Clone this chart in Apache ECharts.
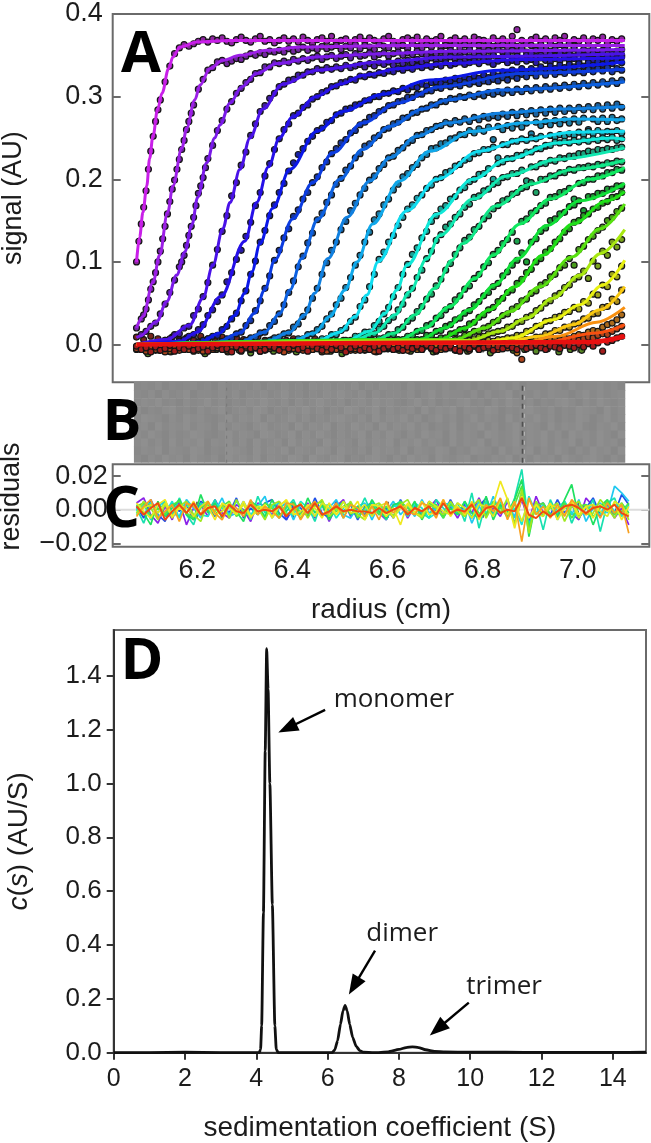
<!DOCTYPE html>
<html><head><meta charset="utf-8">
<style>html,body{margin:0;padding:0;background:#fff}#main{width:651px;height:1143px;filter:blur(0.5px)}</style>
<script src="https://cdn.jsdelivr.net/npm/echarts@6/dist/echarts.min.js"></script>
</head><body><div id="main"></div>
<script>
// ---------- tick labels ----------
const radiusTicks=[6.2,6.4,6.6,6.8,7.0];
const signalTicks=[0,0.1,0.2,0.3,0.4];
const residualTicks=[-0.02,0,0.02];
const sedTicks=[0,2,4,6,8,10,12,14];
const cTicks=[0,0.2,0.4,0.6,0.8,1.0,1.2,1.4];
// ---------- panel A: observed radii grid (cm); signal in milli-AU ----------
const obsRadiusStart=6.0725, obsRadiusStep=0.01;
const scanColors=['#c81fe8','#9c1fe6','#7a1ae8','#4a12e8','#2610e8','#0c18e8','#0c3ce0','#0c60e0','#1080e0','#10a8ea','#10dcf0','#10e8d8','#10e8b0','#10e888','#10e860','#10e038','#20e018','#58e010','#a8e810','#e8f010','#f8c810','#f89010','#f85010','#e81010'];
const scanStart=[0,0,1,6,9,13,17,22,27,32,37,42,45,49,53,57,62,67,70,72,77,0,0,0];
const dots01=[100,146,186,234,270,296,318,337,352,359,363,361,364,367,369,366,370,368,371,367,365,369,372,368,366,370,373,367,369,365,368,371,367,370,366,372,368,364,369,371,367,373,366,368,370,365,369,372,367,371,368,366,370,373,367,365,369,371,368,372,366,370,367,369,373,365,368,371,367,370,366,372,369,368,365,371,367,370,366,373,381,368,365,369,372,367,370,366,371,368,373,365,369,367,371,366,370,368,372,365,369,367,370];
const dots02=[20,31,43,67,87,113,143,173,199,224,247,270,290,309,321,332,335,342,344,340,343,346,345,349,352,350,353,351,355,354,356,354,358,355,357,360,356,359,357,361,358,360,362,357,361,359,363,358,362,360,357,363,361,359,364,360,362,358,365,361,359,363,360,364,358,362,361,365,359,363,360,364,362,358,366,361,359,363,360,365,361,358,364,362,360,363,359,365,361,363,360,364,361];
const dots03=[12,16,22,26,37,49,63,78,94,108,132,154,183,202,225,241,259,271,285,294,304,310,317,321,328,329,336,336,341,340,343,341,345,343,346,344,347,349,345,348,350,346,349,351,347,352,349,350,353,348,351,353,349,352,354,350,353,351,355,352,350,354,352,355,351,356,353,350,354,357,352,355,353,356,351,357,354,352,356,353,358,354,352,356,359,353,355,357,352,356,354,358,353,357,355,359,354,356,358,353,355,357];
const dots04=[5,7,12,13,20,22,35,43,58,75,96,115,137,156,180,196,217,233,253,267,282,289,298,304,312,315,320,321,326,326,330,330,334,332,335,333,336,334,338,335,337,339,336,340,337,341,339,342,338,343,340,344,341,345,342,344,347,343,346,344,348,345,347,343,348,346,349,345,347,350,346,348,351,347,349,346,350,352,348,350,347,351,349,352,348,351,349,353,350,347,352,350,354,349,351,353,350];
const dots05=[4,6,10,12,18,24,35,42,52,60,76,87,103,114,131,148,168,184,204,219,236,249,260,267,277,280,287,290,297,300,305,307,312,313,317,318,321,320,325,324,327,326,329,328,331,330,334,332,335,333,337,335,338,336,339,337,341,338,340,342,339,341,343,340,344,342,339,343,345,341,344,342,346,343,345,341,347,344,342,346,343,347,344,346,342,348,345,343,347,345,349,344,346,348];
const dots06=[3,5,7,10,11,18,22,31,38,53,65,85,101,124,138,156,169,184,195,210,220,230,237,246,252,259,262,269,271,278,280,285,286,290,291,295,296,300,300,304,304,307,306,310,308,312,311,315,313,317,318,316,320,318,322,319,323,321,325,322,326,323,328,325,330,327,332,329,334,330,334,331,336,333,337,334,338,335,339,336,340,337,341,338,342,339,343,340,344,341];
const dots07=[2,4,7,8,13,15,23,29,41,53,68,83,102,114,129,140,155,163,176,184,196,203,214,221,231,237,244,248,256,259,266,269,275,277,282,284,289,290,294,295,299,299,303,303,307,307,311,310,314,312,315,313,317,315,318,316,319,318,321,319,323,320,325,322,327,324,329,325,330,326,331,327,330,328,332,329,331,329,333,330,334,331,335,330,334,332];
const dots08=[3,5,8,9,14,15,23,28,37,48,63,77,94,107,123,135,151,159,172,181,194,201,211,216,226,231,240,243,250,253,260,262,267,269,274,275,280,281,285,286,290,290,294,294,298,297,300,299,302,300,303,301,305,303,306,304,308,305,309,306,310,307,311,308,312,309,313,310,314,311,315,312,316,313,317,314,318,315,319,316,320];
const dots09=[3,5,8,9,13,14,21,25,34,42,56,68,85,99,114,124,139,149,162,171,181,189,199,204,213,218,226,228,235,238,244,247,253,254,259,260,264,265,269,267,271,269,273,270,275,272,276,274,277,275,279,276,281,277,282,278,283,279,284,280,285,281,286,282,286,283,287,284,288,284,289,285,290,286,291,287];
const dots10=[3,4,7,7,12,13,18,22,31,37,48,56,69,81,96,108,124,136,151,158,169,176,187,194,203,207,214,218,226,230,237,238,243,244,249,250,254,254,259,256,261,258,263,248,264,260,265,262,267,263,268,255,269,265,270,266,271,267,272,268,273,269,274,260,273,270,274,270,275,271,273];
const dots11=[3,4,7,7,12,12,17,20,28,33,46,54,70,85,103,112,124,132,144,154,164,169,177,181,189,193,200,202,208,210,216,218,223,225,231,232,236,236,239,226,242,242,246,246,249,247,250,249,252,240,253,251,254,252,255,253,257,254,258,255,259,256,258,257,259,256];
const dots12=[2,3,5,5,10,10,15,15,23,28,37,45,58,69,85,97,109,117,129,137,149,156,164,168,176,179,187,190,197,200,206,207,213,200,219,221,225,225,229,229,233,233,237,237,241,241,245,244,246,244,247,245,248,246,249,247,250,248,251,247,249];
const dots13=[3,5,8,8,12,13,19,22,29,33,42,49,60,68,81,90,104,113,126,133,142,146,154,158,166,170,178,180,186,188,194,196,202,203,207,207,211,198,215,215,219,219,223,222,226,225,228,228,231,231,234,233,236,235,237,236,238,239];
const dots14=[3,4,7,8,12,12,18,21,28,32,40,46,55,61,71,79,90,98,109,117,126,130,139,143,152,156,164,168,174,176,182,184,189,191,196,184,200,200,204,204,208,208,212,211,214,214,216,215,218,217,220,219,222,221];
const dots15=[3,4,6,6,10,11,16,17,23,25,32,35,42,46,54,59,67,71,80,85,94,99,109,114,122,127,136,125,149,152,159,162,168,171,178,179,184,185,189,176,195,196,200,200,204,204,208,208,212,211];
const dots16=[2,3,6,6,11,11,16,17,22,24,30,32,38,41,48,52,59,63,70,74,83,88,96,102,111,100,124,128,137,141,150,152,158,160,167,169,174,162,179,179,183,183,188,188,192,192];
const dots17=[4,5,8,8,13,14,18,19,25,27,33,36,42,45,52,56,63,66,74,79,87,91,100,104,112,116,124,128,136,140,148,150,156,158,164,166,171,173,178,179,184];
const dots18=[6,7,11,12,16,16,20,22,27,29,35,37,43,46,53,55,62,65,72,75,82,85,93,96,104,96,115,119,127,131,138,142,150,154,161,165];
const dots19=[5,7,9,10,13,14,16,17,21,22,27,28,33,35,41,44,50,53,59,62,69,72,79,82,89,80,101,95,113,108,124,118,127];
const dots20=[2,3,5,4,6,6,8,8,11,11,16,17,22,23,28,29,33,34,39,40,45,43,52,50,61,60,72,70,85,82,95];
const dots21=[1,3,2,4,3,6,6,9,9,13,13,17,17,21,21,25,26,31,32,37,38,45,46,55,52,66];
const dots22=[-3,-6,-2,-5,-7,-1,-4,-8,-3,-5,-6,-2,-4,-7,-3,-1,-6,-4,-5,-2,-7,-3,-5,-1,-6,-4,-8,-2,-5,-3,-6,-4,-7,-2,-5,-1,-4,-6,-3,-9,-2,-5,-4,-6,-1,-3,-7,-4,-2,-5,-3,-6,-2,-4,-1,-5,-7,-3,-2,-6,-4,-1,-5,-3,-6,-2,-4,-7,-1,-3,-5,-2,-4,-1,-3,-5,-2,0,-3,1,-10,2,0,3,2,4,3,5,6,5,8,7,10,12,11,15,17,16,21,24,26,30,36];
const dots23=[-5,-2,-8,-4,-6,-3,-9,-5,-2,-7,-4,-6,-1,-5,-8,-3,-6,-4,-2,-7,-5,-3,-8,-4,-6,-2,-5,-7,-3,-4,-6,-9,-2,-5,-3,-7,-4,-6,-2,-5,-8,-3,-6,-4,-2,-7,-5,-3,-6,-4,-8,-2,-5,-3,-6,-4,-2,-7,-5,-3,-6,-2,-4,-8,-3,-5,-1,-6,-3,-4,-7,-2,-5,-1,-4,-3,-6,-2,-4,-1,-3,-18,-2,-3,0,-1,1,0,2,3,2,4,6,5,7,9,8,11,13,12,16,19,22];
const dots24=[-2,-6,-4,-9,-3,-7,-5,-1,-8,-4,-6,-2,-7,-5,-3,-8,-4,-1,-6,-5,-9,-3,-7,-2,-5,-4,-8,-6,-2,-4,-7,-3,-5,-1,-6,-4,-8,-2,-5,-7,-3,-6,-1,-4,-9,-5,-2,-7,-4,-6,-3,-8,-5,-2,-6,-4,-7,-3,-5,-2,-6,-1,-4,-7,-3,-5,-2,-6,-8,-3,-5,-1,-6,-4,-2,-7,-3,-5,-1,-4,-6,-2,-5,-3,-1,-4,-6,-2,-3,-5,-1,-2,-4,0,-3,1,-2,2,-8,3,5,8,10];
const allDots=[dots01,dots02,dots03,dots04,dots05,dots06,dots07,dots08,dots09,dots10,dots11,dots12,dots13,dots14,dots15,dots16,dots17,dots18,dots19,dots20,dots21,dots22,dots23,dots24];
// half-step readings on the steepest scans
const halfStart=[0,1,9];
const half01=[125,166,212,252,284];
const half02=[36,54,76,100,128,158,188,212,236,260,280];
const half03=[100,120,143,168,192,214];
const allHalf=[half01,half02,half03];
// dots along the baseline (milli-AU)
const baselineStep=0.015, oliveStep=0.024;
const baselineUpper=[9,6,10,7,5,9,6,8,5,10,7,6,9,5,8,6,7,9,5,6,8,5,7,6,4,7,5,6,4,5,4,5,3,5,4,3];
const baselineOlive=[-6,-11,-7,-9,-5,-8,-11,-6,-9,-7,-10,-5,-8,-6,-9,-7,-5,-8,-11,-6,-7,-9,-5,-7,-8,-6,-9,-5,-7,-8,-6,-10,-5,-7,-6,-8,-5,-9,-6,-7];
// fit curves: [radius cm, signal milli-AU]
const fit01=[[6.0725,100],[6.079,130],[6.086,160],[6.094,192],[6.100,225],[6.107,252],[6.117,285],[6.126,304],[6.140,334],[6.149,348],[6.164,360],[6.199,366],[6.269,368],[7.099,368]];
const fit02=[[6.0725,20],[6.086,34],[6.107,75],[6.121,108],[6.138,160],[6.149,192],[6.168,238],[6.178,262],[6.195,296],[6.206,314],[6.227,334],[6.254,344],[6.290,350],[6.347,356],[6.416,360],[6.626,362],[7.099,362]];
const fit03=[[6.0725,8],[6.079,10],[6.115,28],[6.136,52],[6.157,84],[6.174,112],[6.189,145],[6.201,178],[6.220,220],[6.237,250],[6.248,266],[6.269,292],[6.294,312],[6.325,328],[6.368,340],[6.452,348],[6.584,352],[6.731,355],[7.099,357]];
const fit04=[[6.0725,0],[6.136,6],[6.185,24],[6.212,56],[6.233,96],[6.254,140],[6.269,172],[6.290,212],[6.311,250],[6.338,285],[6.380,315],[6.452,332],[6.584,342],[6.731,348],[7.099,352]];
const fit05=[[6.0725,0],[6.164,4],[6.200,15],[6.250,58],[6.300,125],[6.325,172],[6.350,215],[6.373,250],[6.400,275],[6.450,300],[6.500,315],[6.550,326],[6.626,334],[6.725,340],[6.879,345],[7.099,347]];
const fit06=[[6.0725,0],[6.206,3],[6.248,14],[6.279,35],[6.300,62],[6.315,88],[6.332,122],[6.359,165],[6.395,212],[6.452,258],[6.506,282],[6.590,303],[6.689,320],[6.837,332],[7.099,342]];
const fit07=[[6.0725,0],[6.237,2],[6.290,14],[6.321,38],[6.342,66],[6.363,102],[6.401,152],[6.443,196],[6.485,232],[6.548,268],[6.620,292],[6.710,312],[6.879,328],[7.099,333]];
const fit08=[[6.0725,0],[6.290,3],[6.342,15],[6.374,38],[6.395,66],[6.420,104],[6.454,152],[6.500,200],[6.548,236],[6.605,264],[6.675,285],[6.725,296],[6.837,308],[7.099,318]];
const fit09=[[6.0725,0],[6.342,3],[6.395,15],[6.426,36],[6.447,62],[6.475,104],[6.515,154],[6.563,198],[6.605,226],[6.662,252],[6.725,268],[6.837,280],[6.963,285],[7.099,288]];
const fit10=[[6.0725,0],[6.395,3],[6.447,14],[6.479,34],[6.511,66],[6.536,100],[6.569,146],[6.626,198],[6.689,234],[6.780,258],[6.885,268],[6.990,273],[7.099,272]];
const fit11=[[6.0725,0],[6.447,3],[6.500,15],[6.532,34],[6.557,60],[6.580,100],[6.641,162],[6.704,200],[6.794,234],[6.885,248],[6.990,257],[7.099,258]];
const fit12=[[6.0725,0],[6.511,4],[6.563,16],[6.595,38],[6.620,66],[6.641,96],[6.704,158],[6.780,200],[6.851,224],[6.956,244],[7.074,250],[7.099,248]];
const fit13=[[6.0725,0],[6.521,3],[6.574,14],[6.616,36],[6.647,64],[6.683,104],[6.710,132],[6.780,176],[6.851,204],[6.956,224],[7.099,238]];
const fit14=[[6.0725,0],[6.563,3],[6.616,14],[6.658,36],[6.700,68],[6.736,102],[6.757,122],[6.830,168],[6.900,194],[6.990,212],[7.099,223]];
const fit15=[[6.0725,0],[6.626,6],[6.679,20],[6.731,46],[6.784,80],[6.822,108],[6.879,146],[6.942,176],[7.026,200],[7.099,214]];
const fit16=[[6.0725,0],[6.668,6],[6.721,20],[6.773,42],[6.826,72],[6.874,104],[6.935,144],[7.005,174],[7.099,195]];
const fit17=[[6.0725,0],[6.710,6],[6.763,20],[6.815,42],[6.868,70],[6.927,108],[6.990,146],[7.062,174],[7.099,185]];
const fit18=[[6.0725,0],[6.742,6],[6.805,20],[6.858,40],[6.921,70],[6.988,106],[7.047,140],[7.099,170]];
const fit19=[[6.0725,0],[6.773,5],[6.837,16],[6.893,32],[6.948,56],[7.005,84],[7.047,110],[7.099,139]];
const fit20=[[6.0725,0],[6.794,2],[6.864,8],[6.948,30],[7.005,48],[7.053,72],[7.099,102]];
const fit21=[[6.0725,0],[6.837,2],[6.921,10],[6.990,24],[7.047,42],[7.099,70]];
const fit22=[[6.0725,0],[6.879,2],[6.956,10],[7.040,27],[7.099,45]];
const fit23=[[6.0725,0],[6.921,2],[7.040,14],[7.099,24]];
const fit24=[[6.0725,0],[7.026,3],[7.099,10]];
const allFits=[fit01,fit02,fit03,fit04,fit05,fit06,fit07,fit08,fit09,fit10,fit11,fit12,fit13,fit14,fit15,fit16,fit17,fit18,fit19,fit20,fit21,fit22,fit23,fit24];
// ---------- panel B: residual bitmap, grey level digits per row ----------
const bitmapStart=6.067, bitmapStep=0.01474;
const bitmapRows=[
"3435243453425344352435342545343524354425344353452434535244354253445342",
"4352534624435352445346342435464352534435246354435253462435354424635345",
"3546342534635243546435253464352453645324635243563425364352435642536435",
"5243563425346245365243546352436534625345263546254365243564352436542635",
"3654253645324635462534635243564352635463524635246354263546352436524635",
"4526354635426354256345263546253645263546352436254635246354263546325463",
"5364253465324635426534625364253462536425364526354265346254635264536426",
"4635263546254635263452635426354263546254635426354625346254635462536452",
"3546254365243654263546254365264352645362543652436542635462536425364526",
"4253645264352645362543652643562435642536452643562435462536452643564253"];
const streakRadius=[6.884,6.884];
const streakLevel=[0,10];
const faintRadius=[6.262,6.262];
// ---------- panel C: residuals in units of 0.001 ----------
const resRadiusStart=6.0725, resRadiusStep=0.015;
const resPurple=[4,7,-3,-8,2,-6,5,-9,1,3,-4,6,-2,-5,3,0,-7,4,2,-3,5,-6,1,-2,4,-5,3,-7,2,6,-4,1,-3,5,-2,-6,3,4,-5,2,-3,1,6,-4,2,-5,3,-2,7,-3,1,-4,5,-8,6,-7,8,-2,3,-5,4,-2,-6,7,2,-4,3,-5,1,-9];
const resBlue=[2,-5,6,-3,-7,4,-1,3,-6,5,2,-4,3,-2,7,-5,1,-3,4,6,-2,-6,3,1,-4,7,-2,-5,5,-1,3,-6,2,4,-3,1,-5,6,-2,3,-4,5,-1,-3,6,-2,4,-5,2,7,-3,5,-1,-4,9,-6,2,4,-3,6,-2,3,-5,1,7,-3,4,-2,9,3];
const resCyan=[-3,4,-6,2,5,-2,-4,6,1,-5,3,-1,7,-4,-2,5,-3,2,8,-5,1,4,-6,3,-2,5,-4,1,6,-3,-5,2,4,-6,3,-1,5,-3,2,-4,6,-2,1,-5,3,-3,5,-8,2,-4,8,-2,6,-5,11,-9,3,-4,5,-6,2,-3,6,-7,1,4,-2,14,10,5];
const resTeal=[1,-8,3,-2,5,-4,7,-3,-9,4,-1,6,-5,2,-3,4,-6,8,-2,3,-5,1,6,-4,2,-7,5,-1,3,-5,4,-2,7,-3,1,-6,2,5,-4,3,-2,-5,6,1,-3,4,-7,10,-11,5,-3,2,-4,7,24,-10,4,-12,6,-3,5,-8,2,-3,6,-13,4,7,-4,3];
const resGreen=[3,-2,-9,5,-4,1,6,-3,-6,9,-2,4,-5,3,-1,-7,5,2,-4,6,-3,-1,4,-5,7,-2,3,-6,1,5,-3,2,-4,6,-1,-5,3,4,-2,5,-6,2,3,-4,1,-3,5,-2,-5,8,-6,3,-2,6,18,-16,5,-3,2,-4,6,15,-5,3,-9,2,6,-3,4,-2];
const resAqua=[-1,3,4,-4,-2,5,-5,2,3,-3,-4,4,1,-3,5,-1,-4,3,-5,2,4,-2,-3,5,1,-4,2,3,-5,1,4,-3,-1,5,-2,-4,2,3,-4,4,1,-5,-2,3,4,-3,1,-4,5,-2,3,4,-5,1,-9,8,-2,3,-4,1,5,-2,-4,3,1,-3,5,-1,-4,2];
const resSpring=[2,4,-4,1,-3,3,5,-2,-5,1,4,-3,2,5,-4,-1,3,-3,4,1,-5,2,4,-2,-3,3,5,-4,-1,2,4,-5,1,3,-3,2,-4,5,1,-2,-3,4,2,-5,3,1,-4,4,-2,-3,5,1,-4,3,14,-11,2,4,-3,-1,4,-5,2,3,-4,1,5,-3,-1,4];
const resLime=[-2,5,1,-6,3,-4,2,5,-3,-7,4,-1,3,-5,6,-2,4,1,-6,3,5,-3,-1,4,-5,2,6,-4,1,-2,5,-3,-6,2,4,-1,-4,3,6,-2,-5,3,1,-3,5,-1,-4,2,6,-5,3,-2,7,-9,12,-14,5,-3,1,4,-7,2,5,-3,-2,6,1,-5,4,-6];
const resGold=[-3,1,3,-2,4,-5,3,1,-4,2,5,-3,-1,4,-2,3,-5,2,1,-4,3,5,-3,-1,2,-4,4,1,-3,5,-2,-1,3,-4,2,4,-5,1,3,-2,-4,5,2,-1,-3,4,1,-5,3,2,-4,6,-3,5,-7,6,-2,-4,3,1,-3,4,-5,2,3,-1,-4,5,2,-3];
const resYellow=[4,-1,-5,3,6,-4,1,-2,5,-3,2,-6,4,1,-3,5,-4,-1,3,-5,2,6,-2,-4,3,1,-5,4,-3,2,-1,5,-6,3,2,-4,1,-9,4,-2,5,-3,-1,6,-4,2,-3,5,-6,1,3,17,6,-11,8,-5,3,-2,4,-6,1,5,-3,2,-5,3,-1,4,-6,2];
const resOrange=[-4,2,6,-5,-1,3,-7,4,2,-3,5,-2,-6,3,1,-4,6,-3,2,-1,-5,4,3,-6,1,5,-3,-2,4,-5,3,1,-4,2,-6,5,-2,3,-1,-3,4,2,-5,6,-3,1,-2,4,-5,3,-1,7,-6,5,-19,7,-3,2,-5,3,-4,6,1,-3,2,-5,4,-2,3,-14];
const resRed=[2,-3,1,4,-6,-1,3,-2,4,-3,1,2,-4,3,-1,-2,3,-1,0,-1,2,-4,1,3,-2,4,-3,-1,2,-1,0,-1,-1,-2,1,-2,0,2,-3,1,-1,2,-3,4,-2,0,-1,3,-4,1,2,-2,0,-1,7,-3,-5,-1,-4,-1,2,3,1,-2,1,2,0,3,-2,-4];
const residualLines=[[resPurple,'#8a20e8'],[resBlue,'#2050e8'],[resCyan,'#20c8f0'],[resTeal,'#18e0b0'],[resAqua,'#18e8d0'],[resGreen,'#20e060'],[resSpring,'#50e840'],[resLime,'#a0e820'],[resGold,'#d8e820'],[resYellow,'#f0e820'],[resOrange,'#f8a020'],[resRed,'#f04a10']];
// ---------- panel D ----------
const sedCoeff=[0,1,2,3,3.8,4.08,4.12,4.15,4.2,4.25,4.29,4.33,4.38,4.45,4.52,4.56,4.62,5,5.8,6.12,6.2,6.28,6.36,6.43,6.49,6.55,6.62,6.7,6.8,6.9,7,7.3,7.7,8,8.2,8.38,8.55,8.75,9,9.3,10,11,12,13,14,14.93];
const cOfS=[0,0,0.002,0,0,0,0.012,0.1,0.52,1.12,1.5,1.35,1.0,0.55,0.1,0.012,0,0,0,0,0.01,0.045,0.105,0.155,0.176,0.155,0.105,0.058,0.024,0.008,0.002,0,0.003,0.012,0.019,0.022,0.019,0.011,0.005,0.003,0.002,0.002,0.001,0.001,0.001,0.002];
const arrowSegments=[[[5.93,1.273],[4.87,1.205]],[[7.33,0.379],[6.74,0.248]],[[9.96,0.186],[9.08,0.088]]];
const peakNames=[['monomer',7.86,1.311],['dimer',8.09,0.444],['trimer',10.95,0.244]];

const AXIS='#6a6a6a', TXT='#1c1c1c', FONT='"Liberation Sans",Arial,sans-serif';
const GA={left:112.7,top:14,width:536.6,height:368.3,outerBoundsMode:'none'};
const GB={left:112.7,top:382,width:536.6,height:80.7,outerBoundsMode:'none'};
const GC={left:112.7,top:464.3,width:536.6,height:82.4,outerBoundsMode:'none'};
const GD={left:113.7,top:630,width:532.3,height:422.7,outerBoundsMode:'none'};
const RX=[6.0224,7.1506];
const border={show:true,borderColor:AXIS,borderWidth:2,backgroundColor:'#fff'};
function dark(hex){const n=parseInt(hex.slice(1),16);const f=c=>Math.round(c*0.62+18);
 return 'rgb('+f(n>>16&255)+','+f(n>>8&255)+','+f(n&255)+')';}
function xAx(gi,pos,show,extra){return Object.assign({type:'value',gridIndex:gi,position:pos,min:RX[0],max:RX[1],
  splitLine:{show:false},axisLine:{show:false},
  axisTick:{show:true,inside:true,length:8,lineStyle:{color:AXIS,width:2},customValues:radiusTicks},
  axisLabel:{show:show,customValues:radiusTicks,formatter:v=>v.toFixed(1),fontFamily:FONT,fontSize:27,color:TXT,margin:10}},extra||{});}
function yAx(gi,pos,min,max,ticks,show,fmt,margin,extra){return Object.assign({type:'value',gridIndex:gi,position:pos,min:min,max:max,
  splitLine:{show:false},axisLine:{show:false},
  axisTick:{show:true,inside:true,length:8,lineStyle:{color:AXIS,width:2},customValues:ticks},
  axisLabel:{show:show,customValues:ticks,formatter:fmt,fontFamily:FONT,fontSize:27,color:TXT,margin:margin}},extra||{});}

const series=[];
function dotSeries(data,color,z){series.push({type:'scatter',xAxisIndex:0,yAxisIndex:0,data:data,symbol:'circle',symbolSize:6,silent:true,
  itemStyle:{color:dark(color),borderColor:'#151515',borderWidth:1.2,opacity:1},z:z});}
dotSeries(baselineUpper.map((v,i)=>[obsRadiusStart+baselineStep*i,v/1000]),'#a02010',2);
dotSeries(baselineOlive.map((v,i)=>[obsRadiusStart+oliveStep*i,v/1000]),'#70c020',2);
allDots.forEach((vals,s)=>{
  const d=vals.map((v,i)=>[obsRadiusStart+obsRadiusStep*(scanStart[s]+i),v/1000]);
  if(allHalf[s]) allHalf[s].forEach((v,i)=>d.push([obsRadiusStart+obsRadiusStep*(halfStart[s]+i+0.5),v/1000]));
  dotSeries(d,scanColors[s],3);
  series.push({type:'line',xAxisIndex:0,yAxisIndex:0,data:allFits[s].map(p=>[p[0],p[1]/1000]),showSymbol:false,smooth:0.35,smoothMonotone:'x',silent:true,
    lineStyle:{color:scanColors[s],width:s===23?4.5:3},z:4+s*0.01});
});
// panel B
const bitmapData=[];
bitmapRows.forEach((row,r)=>{for(let c=0;c<row.length;c++)bitmapData.push([bitmapStart+bitmapStep*c,9-r,+row[c]]);});
series.push({type:'custom',xAxisIndex:2,yAxisIndex:2,data:bitmapData,encode:{x:0,y:1},silent:true,clip:true,
  renderItem(p,api){const a=api.coord([api.value(0),api.value(1)+1]),b=api.coord([api.value(0)+bitmapStep,api.value(1)]);
    const g=131+api.value(2)*2;
    return {type:'rect',shape:{x:a[0],y:a[1],width:b[0]-a[0]+0.6,height:b[1]-a[1]+0.6},style:{fill:'rgb('+g+','+g+','+g+')'}};},z:2});
series.push({type:'line',xAxisIndex:2,yAxisIndex:2,data:streakRadius.map((r,i)=>[r,streakLevel[i]]),showSymbol:false,silent:true,lineStyle:{color:'#505050',width:1.6,type:[5,4]},z:4});
series.push({type:'line',xAxisIndex:2,yAxisIndex:2,data:streakRadius.map((r,i)=>[r+0.004,streakLevel[i]]),showSymbol:false,silent:true,lineStyle:{color:'#b4b4b4',width:1.2,type:[4,5]},z:3});
series.push({type:'line',xAxisIndex:2,yAxisIndex:2,data:faintRadius.map((r,i)=>[r,streakLevel[i]]),showSymbol:false,silent:true,lineStyle:{color:'#787878',width:1,type:[3,5]},z:3});
// panel C
series.push({type:'line',xAxisIndex:3,yAxisIndex:3,data:[[RX[0],0],[RX[1],0]],showSymbol:false,silent:true,lineStyle:{color:'#dcdcdc',width:2},z:1});
residualLines.forEach((l,i)=>series.push({type:'line',xAxisIndex:3,yAxisIndex:3,data:l[0].map((v,k)=>[resRadiusStart+resRadiusStep*k,v/1000]),showSymbol:false,silent:true,
  lineStyle:{color:l[1],width:i===residualLines.length-1?2:1.7},z:2+i*0.01}));
// panel D
series.push({type:'line',xAxisIndex:5,yAxisIndex:5,data:sedCoeff.map((s,i)=>[s,cOfS[i]]),showSymbol:false,silent:true,smooth:0.2,smoothMonotone:'x',
  lineStyle:{color:'#111',width:2.8},
  markLine:{silent:true,animation:false,symbol:['none','triangle'],symbolSize:[15,20],lineStyle:{color:'#000',width:2.4,type:'solid'},label:{show:false},
    data:arrowSegments.map(a=>[{coord:a[0]},{coord:a[1]}])},
  markPoint:{silent:true,animation:false,symbolSize:0,data:peakNames.map(p=>({coord:[p[1],p[2]],name:p[0],label:{show:true,position:'inside',formatter:p[0],fontFamily:'"Open Sans",sans-serif',fontSize:26,color:'#1c1c1c'}}))},
  z:3});

const bigLetter=(t,x,y)=>({type:'text',z:50,style:{text:t,x:x,y:y,align:'center',verticalAlign:'middle',font:'700 58px "Open Sans",sans-serif',fill:'#000'}});
const option={animation:false,backgroundColor:'#fff',
 grid:[Object.assign({},GA,border),Object.assign({},GB,{show:false}),Object.assign({},GC,border),Object.assign({},GD,border)],
 xAxis:[
  xAx(0,'bottom',false),
  xAx(0,'top',false),
  xAx(1,'bottom',false,{axisTick:{show:false}}),
  xAx(2,'bottom',true,{name:'radius (cm)',nameLocation:'middle',nameGap:50,nameTextStyle:{fontFamily:FONT,fontSize:28,color:TXT}}),
  xAx(2,'top',false),
  {type:'value',gridIndex:3,position:'bottom',min:0,max:14.93,splitLine:{show:false},
   axisLine:{show:true,onZero:false,lineStyle:{color:'#333',width:2}},
   axisTick:{show:true,inside:false,length:7,lineStyle:{color:'#333',width:2},customValues:sedTicks},
   axisLabel:{customValues:sedTicks,fontFamily:FONT,fontSize:25,color:TXT,margin:14},
   name:'sedimentation coefficient (S)',nameLocation:'middle',nameGap:62,nameTextStyle:{fontFamily:FONT,fontSize:28,color:TXT}}
 ],
 yAxis:[
  yAx(0,'left',-0.0457,0.4,signalTicks,true,v=>v.toFixed(1),10,{name:'signal (AU)',nameLocation:'middle',nameGap:86,nameTextStyle:{fontFamily:FONT,fontSize:27,color:TXT}}),
  yAx(0,'right',-0.0457,0.4,signalTicks,false,null,0),
  yAx(1,'left',0,10,[],false,null,0,{axisTick:{show:false}}),
  yAx(2,'left',-0.022,0.027,residualTicks,true,v=>(v<0?'\u2212':'')+Math.abs(v).toFixed(2),5,{name:'residuals',nameLocation:'middle',nameGap:88,nameTextStyle:{fontFamily:FONT,fontSize:27,color:TXT,padding:[0,0,0,18]}}),
  yAx(2,'right',-0.022,0.027,residualTicks,false,null,0),
  {type:'value',gridIndex:3,position:'left',min:0,max:1.5697,splitLine:{show:false},
   axisLine:{show:true,onZero:false,lineStyle:{color:'#333',width:2}},
   axisTick:{show:true,inside:false,length:7,lineStyle:{color:'#333',width:2},customValues:cTicks},
   axisLabel:{customValues:cTicks,formatter:v=>v.toFixed(1),fontFamily:FONT,fontSize:26,color:TXT,margin:12},
   name:'{i|c}({i|s}) (AU/S)',nameLocation:'middle',nameGap:80,
   nameTextStyle:{fontFamily:FONT,fontSize:28,color:TXT,rich:{i:{fontStyle:'italic',fontFamily:FONT,fontSize:28,color:TXT}}}}
 ],
 series:series,
 graphic:[bigLetter('A',141,55),bigLetter('B',122,423),bigLetter('C',121.5,510),bigLetter('D',142,662)]
};
echarts.init(document.getElementById('main'),null,{renderer:'canvas'}).setOption(option);
</script></body></html>
